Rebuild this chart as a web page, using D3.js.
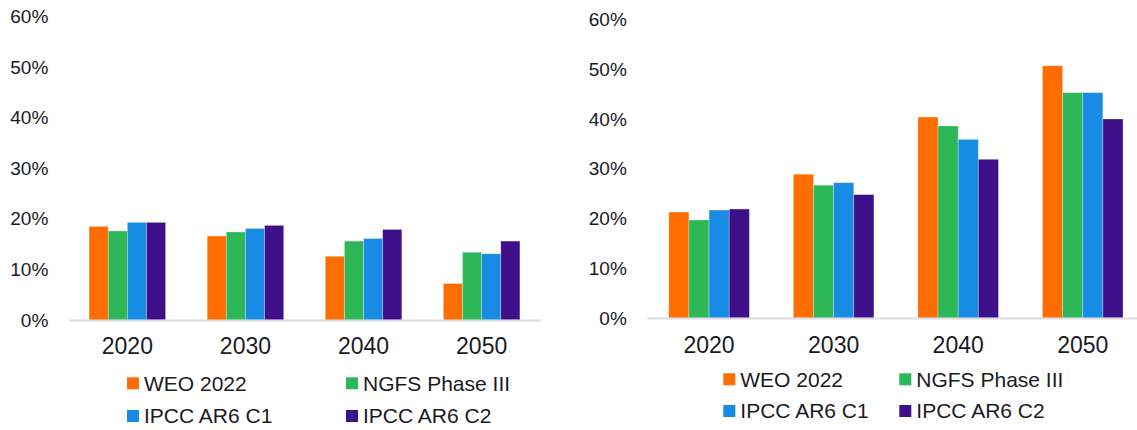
<!DOCTYPE html>
<html>
<head>
<meta charset="utf-8">
<script src="https://cdn.jsdelivr.net/npm/d3@7/dist/d3.min.js"></script>
<style>
  html, body { margin: 0; padding: 0; background: #fff; }
  svg { display: block; }
  text { font-family: "Liberation Sans", Arial, sans-serif; fill: #1a1a24; }
</style>
</head>
<body>
<svg id="chart" width="1137" height="430"></svg>
<script>
// Categories and series
const years = ["2020", "2030", "2040", "2050"];
const seriesNames = ["WEO 2022", "NGFS Phase III", "IPCC AR6 C1", "IPCC AR6 C2"];
const seriesColors = ["#ff6d00", "#2db757", "#188ce5", "#3d108a"];
const yTickValues = [0, 0.1, 0.2, 0.3, 0.4, 0.5, 0.6];

// Left panel values (share, %)
const leftWEO = [18.5, 16.6, 12.6, 7.2];
const leftNGFS = [17.6, 17.4, 15.6, 13.4];
const leftC1 = [19.3, 18.1, 16.1, 13.1];
const leftC2 = [19.3, 18.7, 17.9, 15.6];

// Right panel values (share, %)
const rightWEO = [21.3, 28.9, 40.4, 50.7];
const rightNGFS = [19.7, 26.7, 38.6, 45.3];
const rightC1 = [21.7, 27.2, 35.9, 45.3];
const rightC2 = [21.9, 24.8, 31.9, 40.0];

const svg = d3.select("#chart");

function drawPanel(cfg) {
  const g = svg.append("g");
  const table = years.map((yr, i) => ({
    year: yr,
    values: cfg.series.map((arr, s) => ({ name: seriesNames[s], color: seriesColors[s], v: arr[i] / 100 }))
  }));

  const x = d3.scaleBand().domain(years).range([cfg.x0, cfg.x1])
    .paddingInner(cfg.pad).paddingOuter(cfg.pad / 2);
  const xs = d3.scaleBand().domain(seriesNames).range([0, x.bandwidth()]).padding(0);
  const y = d3.scaleLinear().domain([0, 0.6]).range([cfg.yBase, cfg.yTop]);

  // y axis: labels only
  const yAxis = g.append("g")
    .attr("transform", `translate(${cfg.x0},0)`)
    .call(d3.axisLeft(y).tickValues(yTickValues).tickSize(0).tickPadding(20)
      .tickFormat(d3.format(".0%")));
  yAxis.select(".domain").remove();
  yAxis.selectAll("text").style("font-size", "19px").style("font-family", "'Liberation Sans', Arial, sans-serif").attr("fill", "#1a1a24");

  // bars
  const groups = g.selectAll(".grp").data(table).join("g")
    .attr("class", "grp")
    .attr("transform", d => `translate(${x(d.year)},0)`);
  groups.selectAll("rect").data(d => d.values).join("rect")
    .attr("x", d => xs(d.name))
    .attr("width", xs.bandwidth())
    .attr("y", d => y(d.v))
    .attr("height", d => y(0) - y(d.v))
    .attr("fill", d => d.color)
    .attr("stroke", "rgba(255,255,255,0.35)")
    .attr("stroke-width", 0.8);

  // x axis
  const xAxis = g.append("g")
    .attr("transform", `translate(0,${cfg.yBase})`)
    .call(d3.axisBottom(x).tickSize(0).tickSizeOuter(0).tickPadding(cfg.xPad));
  xAxis.select(".domain").attr("stroke", "#dcdce2").attr("stroke-width", 2);
  xAxis.selectAll("text").style("font-size", "23px").style("font-family", "'Liberation Sans', Arial, sans-serif").attr("fill", "#1a1a24");

  // legend (2 x 2)
  const leg = g.append("g");
  seriesNames.forEach((name, i) => {
    const col = i % 2, row = Math.floor(i / 2);
    const lx = cfg.legX[col], ly = cfg.legY[row];
    leg.append("rect").attr("x", lx).attr("y", ly - 6).attr("width", 12).attr("height", 12)
      .attr("fill", seriesColors[i]);
    leg.append("text").attr("x", lx + 17).attr("y", ly).attr("dy", "0.35em")
      .style("font-size", "21px").text(name);
  });
}

drawPanel({
  series: [leftWEO, leftNGFS, leftC1, leftC2],
  x0: 68.3, x1: 540.7, pad: 0.352,
  yBase: 320, yTop: 16.5, xPad: 18,
  legX: [127, 346], legY: [383.3, 416]
});

drawPanel({
  series: [rightWEO, rightNGFS, rightC1, rightC2],
  x0: 646.8, x1: 1145, pad: 0.353,
  yBase: 318, yTop: 19.5, xPad: 19,
  legX: [723.3, 899.3], legY: [379.3, 411]
});
</script>
</body>
</html>
